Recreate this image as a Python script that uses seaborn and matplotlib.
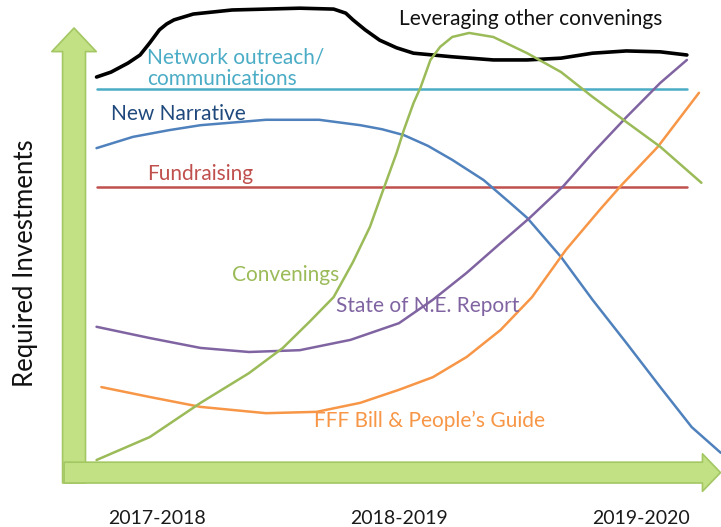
import matplotlib
matplotlib.use("Agg")
import matplotlib.pyplot as plt
from matplotlib.patches import FancyArrowPatch
import pandas as pd
import seaborn as sns

# ---- data (x = school year position, y = required investment index) ----
lev_x = [2017.25, 2017.31, 2017.38, 2017.43, 2017.47, 2017.51, 2017.54, 2017.57, 2017.65, 2017.81,
         2018.09, 2018.23, 2018.28, 2018.31, 2018.36, 2018.42, 2018.49, 2018.56, 2018.72, 2018.89,
         2019.03, 2019.17, 2019.30, 2019.44, 2019.58, 2019.69]
lev_y = [85.1, 86.2, 88.2, 90.0, 92.7, 95.6, 96.9, 97.8, 99.1, 100.0,
         100.4, 100.2, 99.3, 97.8, 95.6, 93.3, 91.6, 90.4, 89.6, 88.9,
         88.9, 89.3, 90.4, 90.9, 90.7, 90.0]

net_x = [2017.25, 2019.69]
net_y = [82.4, 82.4]

fund_x = [2017.25, 2019.69]
fund_y = [60.7, 60.7]

narr_x = [2017.25, 2017.40, 2017.55, 2017.68, 2017.95, 2018.17, 2018.34, 2018.43, 2018.52, 2018.62,
          2018.72, 2018.85, 2018.96, 2019.03, 2019.17, 2019.30, 2019.44, 2019.58, 2019.71, 2019.83]
narr_y = [69.3, 71.8, 73.3, 74.4, 75.6, 75.6, 74.4, 73.5, 72.2, 69.8,
          66.7, 62.2, 57.1, 53.8, 45.1, 35.6, 26.0, 16.2, 7.3, 1.6]

conv_x = [2017.25, 2017.47, 2017.68, 2017.88, 2018.02, 2018.13, 2018.23, 2018.31, 2018.38, 2018.43,
          2018.49, 2018.52, 2018.56, 2018.59, 2018.63, 2018.67, 2018.72, 2018.79, 2018.89, 2019.03,
          2019.17, 2019.30, 2019.44, 2019.58, 2019.75]
conv_y = [0.0, 5.1, 12.7, 19.3, 24.9, 30.7, 36.2, 44.0, 51.8, 59.3,
          68.2, 73.3, 79.3, 82.9, 88.9, 91.8, 94.0, 94.9, 94.0, 90.4,
          86.2, 80.7, 75.1, 69.6, 61.6]

rep_x = [2017.25, 2017.47, 2017.68, 2017.88, 2018.09, 2018.30, 2018.50, 2018.64, 2018.78, 2018.92,
         2019.04, 2019.18, 2019.30, 2019.44, 2019.58, 2019.69]
rep_y = [29.6, 27.1, 24.9, 24.0, 24.4, 26.7, 30.4, 35.6, 41.6, 48.2,
         53.8, 60.9, 68.2, 76.2, 83.8, 88.9]

fff_x = [2017.27, 2017.47, 2017.68, 2017.95, 2018.16, 2018.34, 2018.50, 2018.64, 2018.78, 2018.92,
         2019.05, 2019.19, 2019.33, 2019.42, 2019.57, 2019.74]
fff_y = [16.2, 14.0, 11.8, 10.4, 10.7, 12.7, 15.6, 18.4, 22.9, 28.9,
         36.2, 46.7, 55.6, 61.1, 69.6, 81.6]

tick_pos = [2017.5, 2018.5, 2019.5]
tick_labels = ["2017-2018", "2018-2019", "2019-2020"]

series = [
    # name, x, y, line colour, width
    ("Leveraging other convenings", lev_x, lev_y, "#000000", 2.6),
    ("Network outreach/communications", net_x, net_y, "#4bacc6", 1.8),
    ("Fundraising", fund_x, fund_y, "#c0504d", 1.8),
    ("New Narrative", narr_x, narr_y, "#4f81bd", 1.8),
    ("State of N.E. Report", rep_x, rep_y, "#8064a2", 1.8),
    ("FFF Bill & People's Guide", fff_x, fff_y, "#f79646", 1.8),
    ("Convenings", conv_x, conv_y, "#9bbb59", 1.8),
]

# curve labels: text, x, baseline y, colour
labels = [
    ("Leveraging other convenings", 2018.50, 96.7, "#111111"),
    ("Network outreach/", 2017.46, 88.2, "#4bacc6"),
    ("communications", 2017.46, 83.3, "#4bacc6"),
    ("New Narrative", 2017.31, 75.6, "#1f497d"),
    ("Fundraising", 2017.46, 62.2, "#c0504d"),
    ("Convenings", 2017.81, 39.8, "#9bbb59"),
    ("State of N.E. Report", 2018.24, 32.9, "#8064a2"),
    ("FFF Bill & People\u2019s Guide", 2018.15, 7.3, "#f79646"),
]

sns.set_style("white")
plt.rcParams["font.family"] = ["Lato", "DejaVu Sans"]

fig = plt.figure(figsize=(7.21, 5.27), dpi=100)
ax = fig.add_axes([0, 32 / 527, 1, 495 / 527])
ax.set_xlim(2016.851, 2019.831)
ax.set_ylim(-7.78, 102.22)

# green axis arrows
arrow_face = "#c2e084"
arrow_edge = "#a3c763"
v_arrow = FancyArrowPatch((2017.157, -5.1), (2017.157, 96.0),
                          arrowstyle="simple,head_length=17,head_width=32,tail_width=16.5",
                          mutation_scale=1, shrinkA=0, shrinkB=0,
                          fc=arrow_face, ec=arrow_edge, lw=1.2, zorder=1)
h_arrow = FancyArrowPatch((2017.116, -2.8), (2019.829, -2.8),
                          arrowstyle="simple,head_length=13,head_width=27,tail_width=15",
                          mutation_scale=1, shrinkA=0, shrinkB=0,
                          fc=arrow_face, ec=arrow_edge, lw=1.2, zorder=2)
ax.add_patch(v_arrow)
ax.add_patch(h_arrow)

for name, xs, ys, col, lw in series:
    df = pd.DataFrame({"year": xs, "investment": ys})
    sns.lineplot(data=df, x="year", y="investment", color=col, linewidth=lw,
                 estimator=None, sort=False, ax=ax, zorder=3,
                 solid_joinstyle="round", solid_capstyle="round")

for txt, x, y, col in labels:
    ax.text(x, y, txt, color=col, fontsize=15, va="baseline", ha="left", zorder=4)

ax.set_xticks(tick_pos)
ax.set_xticklabels(tick_labels, fontsize=14, color="#1a1a1a")
ax.tick_params(axis="x", length=0, pad=11)
ax.set_yticks([])
ax.set_xlabel("")
ax.set_ylabel("")
for s in ax.spines.values():
    s.set_visible(False)

ax.text(0.036, 0.469, "Required Investments", transform=ax.transAxes, rotation=90,
        ha="center", va="center", fontsize=18.5, color="#111111")

fig.savefig("out.png", dpi=100)
